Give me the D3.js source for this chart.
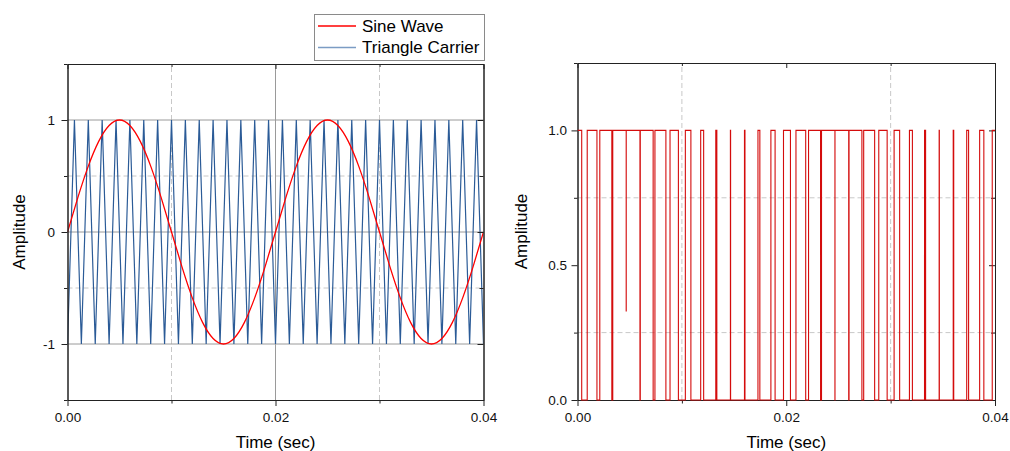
<!DOCTYPE html>
<html>
<head>
<meta charset="utf-8">
<script src="https://cdn.jsdelivr.net/npm/d3@7"></script>
<style>
  body { margin: 0; background: #fff; }
  svg { display: block; font-family: Arial, "Liberation Sans", sans-serif; }
</style>
</head>
<body>
<svg class="chart" width="1010" height="451"></svg>
<script>
// times are in milliseconds, plotted in seconds
var sineTimeMs = [0,1,2,3,4,5,6,7,8,9,10,11,12,13,14,15,16,17,18,19,20,
  21,22,23,24,25,26,27,28,29,30,31,32,33,34,35,36,37,38,39,40];
var sineValues = [0,0.309,0.588,0.809,0.951,1,0.951,0.809,0.588,0.309,0,
  -0.309,-0.588,-0.809,-0.951,-1,-0.951,-0.809,-0.588,-0.309,0,
  0.309,0.588,0.809,0.951,1,0.951,0.809,0.588,0.309,0,
  -0.309,-0.588,-0.809,-0.951,-1,-0.951,-0.809,-0.588,-0.309,0];

// corners of the triangle carrier
var carrierTimeMs = [0,0.667,1.333,2,2.667,3.333,4,4.667,5.333,6,6.667,7.333,8,8.667,9.333,10,
  10.667,11.333,12,12.667,13.333,14,14.667,15.333,16,16.667,17.333,18,18.667,19.333,20,
  20.667,21.333,22,22.667,23.333,24,24.667,25.333,26,26.667,27.333,28,28.667,29.333,30,
  30.667,31.333,32,32.667,33.333,34,34.667,35.333,36,36.667,37.333,38,38.667,39.333,40];
var carrierValues = [-1,1,-1,1,-1,1,-1,1,-1,1,-1,1,-1,1,-1,1,-1,1,-1,1,-1,1,-1,1,-1,1,-1,1,-1,1,-1,
  1,-1,1,-1,1,-1,1,-1,1,-1,1,-1,1,-1,1,-1,1,-1,1,-1,1,-1,1,-1,1,-1,1,-1,1,-1];

// low pulses of the PWM output (start / end in ms, level reached)
var pwmLowStart = [0.403,1.863,3.289,4.665,5.984,7.248,8.469,9.667,10.864,12.086,13.350,14.668,16.045,17.471,18.931,
  20.403,21.863,23.289,24.665,25.984,27.248,28.469,29.667,30.864,32.086,33.350,34.668,36.045,37.471,38.931];
var pwmLowEnd = [0.931,2.137,3.378,4.669,6.016,7.419,8.865,10.333,11.802,13.248,14.650,15.998,17.289,18.529,19.736,
  20.931,22.137,23.378,24.669,26.016,27.419,28.865,30.333,31.802,33.248,34.650,35.998,37.289,38.529,39.736];
var pwmLowLevel = [0,0,0,0.33,0,0,0,0,0,0,0,0,0,0,0,
  0,0,0,0,0,0,0,0,0,0,0,0,0,0,0];

var xMajor = [0, 0.02, 0.04];
var xMinor = [0.01, 0.03];
var leftYMajor = [-1, 0, 1];
var leftYMinor = [-1.5, -0.5, 0.5, 1.5];
var rightYMajor = [0, 0.5, 1];
var rightYMinor = [0.25, 0.75, 1.25];

var svg = d3.select('.chart');
var fmtX = d3.format('.2f');
// plain hyphen for negative labels, like the original
var fmtInt = d => String(d);

// panel geometry
var left = {x0: 67.5, x1: 483.5, y0: 64, y1: 400};
var right = {x0: 577.5, x1: 995, y0: 63, y1: 400};

var xL = d3.scaleLinear().domain([0, 0.04]).range([left.x0, left.x1]);
var yL = d3.scaleLinear().domain([-1.5, 1.5]).range([left.y1, left.y0]);
var xR = d3.scaleLinear().domain([0, 0.04]).range([right.x0, right.x1]);
var yR = d3.scaleLinear().domain([0, 1.25]).range([right.y1, right.y0]);

function gridLines(g, x, y, xs, ys, color, dash){
  g.selectAll(null).data(xs).join('line')
    .attr('x1', d => x(d)).attr('x2', d => x(d))
    .attr('y1', y.range()[0]).attr('y2', y.range()[1])
    .attr('stroke', color).attr('stroke-width', 1)
    .attr('stroke-dasharray', dash);
  g.selectAll(null).data(ys).join('line')
    .attr('y1', d => y(d)).attr('y2', d => y(d))
    .attr('x1', x.range()[0]).attr('x2', x.range()[1])
    .attr('stroke', color).attr('stroke-width', 1)
    .attr('stroke-dasharray', dash);
}

//Draws the frame and the ticks on all four sides
function drawAxes(g, x, y, yMajor, yMinor, yFormat, yPad){
  var b = y.range()[0], t = y.range()[1];
  var l = x.range()[0], r = x.range()[1];

  g.append('g').attr('transform', `translate(0,${b})`)
    .call(d3.axisBottom(x).tickValues(xMajor).tickFormat(fmtX).tickSize(6).tickPadding(6).tickSizeOuter(0));
  g.append('g').attr('transform', `translate(0,${b})`)
    .call(d3.axisBottom(x).tickValues(xMinor).tickFormat('').tickSize(3.5).tickSizeOuter(0));
  g.append('g').attr('transform', `translate(0,${t})`)
    .call(d3.axisBottom(x).tickValues(xMajor).tickFormat('').tickSize(5).tickSizeOuter(0));
  g.append('g').attr('transform', `translate(0,${t})`)
    .call(d3.axisBottom(x).tickValues(xMinor).tickFormat('').tickSize(3).tickSizeOuter(0));

  g.append('g').attr('transform', `translate(${l},0)`)
    .call(d3.axisLeft(y).tickValues(yMajor).tickFormat(yFormat).tickSize(6).tickPadding(yPad).tickSizeOuter(0));
  g.append('g').attr('transform', `translate(${l},0)`)
    .call(d3.axisLeft(y).tickValues(yMinor).tickFormat('').tickSize(3.5).tickSizeOuter(0));
  g.append('g').attr('transform', `translate(${r},0)`)
    .call(d3.axisLeft(y).tickValues(yMajor).tickFormat('').tickSize(6).tickSizeOuter(0));
  g.append('g').attr('transform', `translate(${r},0)`)
    .call(d3.axisLeft(y).tickValues(yMinor).tickFormat('').tickSize(4).tickSizeOuter(0));

  g.selectAll('.domain').attr('stroke', '#222');
  g.selectAll('.tick line').attr('stroke', '#222');
  g.selectAll('.tick text').attr('font-size', '13.5px').attr('fill', '#111')
    .attr('font-family', 'Arial, "Liberation Sans", sans-serif');
}

function axisTitles(x, y, ampX){
  var cx = (x.range()[0] + x.range()[1]) / 2;
  svg.append('text')
    .attr('x', cx).attr('y', 447.5)
    .attr('text-anchor', 'middle')
    .attr('font-size', '17px').attr('fill', '#000')
    .text('Time (sec)');
  svg.append('text')
    .attr('transform', `translate(${ampX},${(y.range()[0] + y.range()[1]) / 2}) rotate(-90)`)
    .attr('text-anchor', 'middle')
    .attr('dy', '0.35em')
    .attr('font-size', '17px').attr('fill', '#000')
    .text('Amplitude');
}

// ---------- left panel: sine and triangle carrier ----------
svg.append('clipPath').attr('id', 'clipL').append('rect')
  .attr('x', left.x0).attr('y', left.y0)
  .attr('width', left.x1 - left.x0).attr('height', left.y1 - left.y0);

const gL = svg.append('g');
gridLines(gL.append('g'), xL, yL, xMinor, [-0.5, 0.5], '#c8c8c8', '5,3');
gridLines(gL.append('g'), xL, yL, [0.02], [-1, 0, 1], '#9a9a9a', null);

var carrierLine = d3.line()
  .x((d, i) => xL(carrierTimeMs[i] / 1000))
  .y(d => yL(d));
gL.append('path')
  .attr('clip-path', 'url(#clipL)')
  .attr('d', carrierLine(carrierValues))
  .attr('fill', 'none')
  .attr('stroke', '#2b5b97')
  .attr('stroke-width', 1.2);

var sineLine = d3.line()
  .x((d, i) => xL(sineTimeMs[i] / 1000))
  .y(d => yL(d))
  .curve(d3.curveNatural);
gL.append('path')
  .attr('clip-path', 'url(#clipL)')
  .attr('d', sineLine(sineValues))
  .attr('fill', 'none')
  .attr('stroke', '#ff0000')
  .attr('stroke-width', 1.3);

drawAxes(gL, xL, yL, leftYMajor, leftYMinor, fmtInt, 6.5);
axisTitles(xL, yL, 19);

// legend
const legend = svg.append('g');
legend.append('rect')
  .attr('x', 314.5).attr('y', 14.5).attr('width', 170).attr('height', 46)
  .attr('fill', '#fff').attr('stroke', '#8a8a8a');
var legendItems = [
  {name: 'Sine Wave', color: '#ff0000', y: 26},
  {name: 'Triangle Carrier', color: '#7b9cc4', y: 47.5}
];
legend.selectAll('g').data(legendItems).join('g')
  .call(g => g.append('line')
    .attr('x1', 318).attr('x2', 356)
    .attr('y1', d => d.y).attr('y2', d => d.y)
    .attr('stroke', d => d.color).attr('stroke-width', 1.3))
  .call(g => g.append('text')
    .attr('x', 362).attr('y', d => d.y).attr('dy', '0.35em')
    .attr('font-size', '17px').attr('fill', '#000')
    .text(d => d.name));

// ---------- right panel: PWM output ----------
svg.append('clipPath').attr('id', 'clipR').append('rect')
  .attr('x', right.x0).attr('y', right.y0 - 1)
  .attr('width', right.x1 - right.x0 + 1).attr('height', right.y1 - right.y0 + 2);

const gR = svg.append('g');
gridLines(gR.append('g'), xR, yR, xMinor, [0.25, 0.75], '#c8c8c8', '5,3');

var pwmPoints = [[0, 1]];
for (let i = 0; i < pwmLowStart.length; i++) {
  pwmPoints.push([pwmLowStart[i], 1]);
  pwmPoints.push([pwmLowStart[i], pwmLowLevel[i]]);
  pwmPoints.push([pwmLowEnd[i], pwmLowLevel[i]]);
  pwmPoints.push([pwmLowEnd[i], 1]);
}
pwmPoints.push([40, 1]);

var pwmLine = d3.line()
  .x(d => xR(d[0] / 1000))
  .y(d => yR(d[1]));

drawAxes(gR, xR, yR, rightYMajor, rightYMinor, d3.format('.1f'), 4.5);

gR.append('path')
  .attr('clip-path', 'url(#clipR)')
  .attr('d', pwmLine(pwmPoints))
  .attr('fill', 'none')
  .attr('stroke', '#d40c0c')
  .attr('stroke-width', 1.1);

axisTitles(xR, yR, 521);
</script>
</body>
</html>
